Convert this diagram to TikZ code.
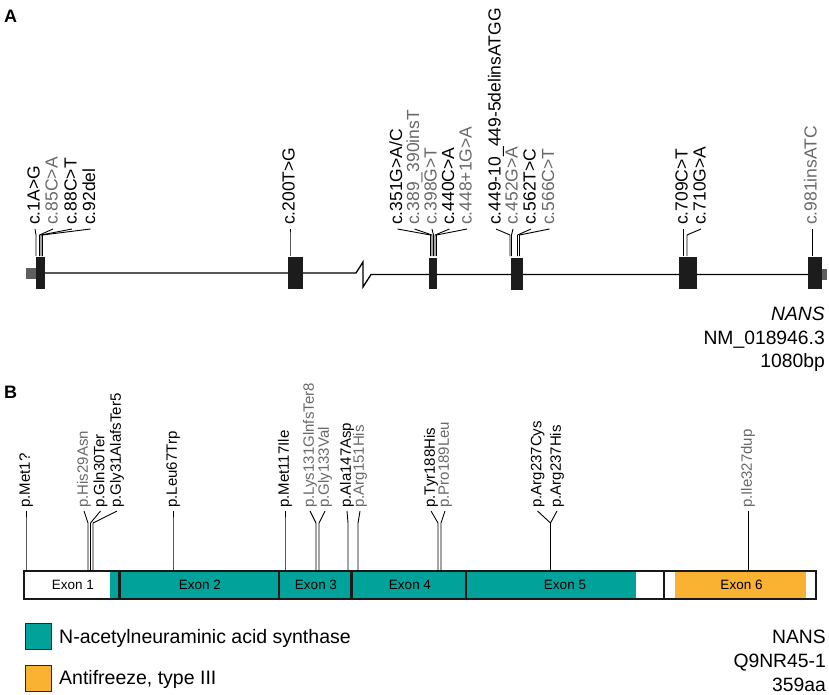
\documentclass[tikz,border=0pt]{standalone}
\usepackage{fontspec}
\setmainfont{Liberation Sans}
\definecolor{tealc}{RGB}{0,162,154}
\definecolor{orngc}{RGB}{250,178,50}
\definecolor{grtxt}{RGB}{105,105,105}
\definecolor{exonc}{RGB}{28,28,28}
\definecolor{utrc}{RGB}{95,95,95}
\newcommand\mutA[5]{%
  \node[labA, text=#4] (#1) at ({#2+4.5},225) {#5};
  \coordinate (#1-e) at (#3,256);
  \coordinate (#1-t) at (#2,229);
  \draw[lead] (#1-e) -- (#3,235) -- (#1-t);
}
\newcommand\mutB[5]{%
  \node[labB, text=#4] (#1) at ({#2+3.9},508) {#5};
  \coordinate (#1-e) at (#3,571);
  \coordinate (#1-t) at (#2,511);
  \draw[lead] (#1-e) -- (#3,523) -- (#1-t);
}
\begin{document}
\begin{tikzpicture}[x=1pt,y=-1pt,
  labA/.style={font=\fontsize{17.5}{20}\selectfont, inner sep=0pt, rotate=90, anchor=base west},
  labB/.style={font=\fontsize{15}{17}\selectfont, inner sep=0pt, rotate=90, anchor=base west},
  lead/.style={line width=0.9pt, black},
  gene/.style={line width=1.3pt, black},
  exonbox/.style={fill=exonc, draw=none},
  panel/.style={font=\fontsize{18}{20}\selectfont\bfseries, inner sep=0pt, anchor=base west},
  info/.style={font=\fontsize{19.3}{22}\selectfont, inner sep=0pt, anchor=base east},
  exlab/.style={font=\fontsize{13.5}{15}\selectfont, inner sep=0pt},
  legtxt/.style={font=\fontsize{19.5}{22}\selectfont, inner sep=0pt, anchor=base west},
  legbox/.style={draw=black!85, line width=0.9pt, minimum width=26pt, minimum height=26pt, inner sep=0pt}
]
\useasboundingbox (0,0) rectangle (829,694);
\fill[white] (0,0) rectangle (829,694);

% ---------------- Panel A ----------------
\node[panel] (pA) at (4,22) {A};

% gene line with break
\coordinate (g0) at (30,273);
\coordinate (br1) at (356,273);
\coordinate (br2) at (363,262);
\coordinate (br3) at (363,287);
\coordinate (br4) at (371,274.5);
\coordinate (g1) at (823,274.5);
\draw[gene] (g0) -- (br1) -- (br2) -- (br3) -- (br4) -- (g1);

% UTR boxes
\fill[utrc] (26,268) rectangle (36,279);
\fill[utrc] (822,269) rectangle (827,280);

% exons
\fill[exonbox] (36,257) rectangle (45,289);
\fill[exonbox] (288,257) rectangle (303,289);
\fill[exonbox] (429,258) rectangle (437,289);
\fill[exonbox] (511,258) rectangle (523,290);
\fill[exonbox] (679,257) rectangle (697,289);
\fill[exonbox] (808,257) rectangle (822,289);

% mutations on exon 1
\mutA{a1}{35}{36}{black}{c.1A>G}
\mutA{a2}{53}{39.5}{grtxt}{c.85C>A}
\mutA{a3}{72}{41}{black}{c.88C>T}
\mutA{a4}{90.5}{42.5}{black}{c.92del}
% exon 2
\mutA{a5}{290}{290}{black}{c.200T>G}
% exon 3
\mutA{a6}{397.5}{430.5}{black}{c.351G>A/C}
\mutA{a7}{414.5}{432}{grtxt}{c.389\_390insT}
\mutA{a8}{432}{433.5}{grtxt}{c.398G>T}
\mutA{a9}{449.5}{435}{black}{c.440C>A}
\mutA{a10}{467}{436.5}{grtxt}{c.448+1G>A}
% exon 4
\mutA{a11}{496}{510}{black}{c.449-10\_449-5delinsATGG}
\mutA{a12}{513}{511.5}{grtxt}{c.452G>A}
\mutA{a13}{531}{517.5}{black}{c.562T>C}
\mutA{a14}{549.5}{519.5}{grtxt}{c.566C>T}
% exon 5
\mutA{a15}{683}{683}{black}{c.709C>T}
\mutA{a16}{701}{687}{black}{c.710G>A}
% exon 6
\mutA{a17}{812}{812}{grtxt}{c.981insATC}

\node[info] (gname) at (825,320) {\textit{NANS}};
\node[info] (gacc) at (825,344) {NM\_018946.3};
\node[info] (glen) at (825,367) {1080bp};

% ---------------- Panel B ----------------
\node[panel] (pB) at (4,398) {B};

% protein bar
\fill[white] (24,571) rectangle (816,599);
\fill[tealc] (110,571) rectangle (635.5,599);
\fill[orngc] (675,571) rectangle (806,599);
\foreach \xx in {119.5,278.8,351.5,465.6,663.6}
  \draw[line width=2.2pt, black!90] (\xx,571) -- (\xx,599);
\draw[line width=1.5pt, black!90] (24,571) rectangle (816,599);

\node[exlab] (e1) at (73,585) {Exon 1};
\node[exlab] (e2) at (200,585) {Exon 2};
\node[exlab] (e3) at (316,585) {Exon 3};
\node[exlab] (e4) at (410,585) {Exon 4};
\node[exlab] (e5) at (565,585) {Exon 5};
\node[exlab] (e6) at (741.5,585) {Exon 6};

\mutB{b1}{26}{26}{black}{p.Met1?}
\mutB{b2}{84}{88}{grtxt}{p.His29Asn}
\mutB{b3}{100.5}{90.5}{black}{p.Gln30Ter}
\mutB{b4}{117}{93}{black}{p.Gly31AlafsTer5}
\mutB{b5}{173}{173}{black}{p.Leu67Trp}
\mutB{b6}{285}{285}{black}{p.Met117Ile}
\mutB{b7}{310}{316}{grtxt}{p.Lys131GlnfsTer8}
\mutB{b8}{325}{319}{grtxt}{p.Gly133Val}
\mutB{b9}{347}{348}{black}{p.Ala147Asp}
\mutB{b10}{360}{358}{grtxt}{p.Arg151His}
\mutB{b11}{431}{438}{black}{p.Tyr188His}
\mutB{b12}{445}{441}{grtxt}{p.Pro189Leu}
\mutB{b13}{537.5}{550.5}{black}{p.Arg237Cys}
\mutB{b14}{557}{550.5}{black}{p.Arg237His}
\mutB{b15}{748}{748}{grtxt}{p.Ile327dup}

% legend
\node[legbox, fill=tealc] (lg1) at (38,636) {};
\node[legtxt] (lt1) at (59,643) {N-acetylneuraminic acid synthase};
\node[legbox, fill=orngc] (lg2) at (38,678) {};
\node[legtxt] (lt2) at (59,684.5) {Antifreeze, type III};

\node[info] (pname) at (826,643) {NANS};
\node[info] (pacc) at (826,667) {Q9NR45-1};
\node[info] (plen) at (826,691) {359aa};
\end{tikzpicture}
\end{document}
